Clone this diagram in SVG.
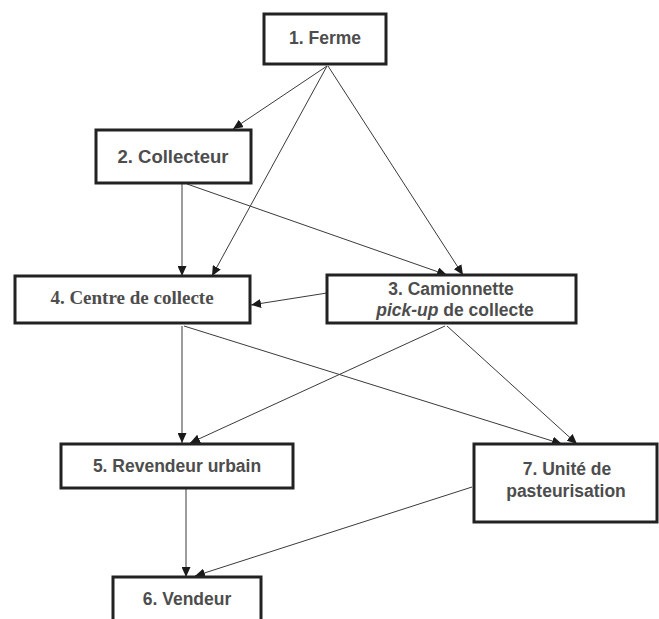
<svg xmlns="http://www.w3.org/2000/svg" width="659" height="619" viewBox="0 0 659 619">
<defs>
<marker id="arr" markerUnits="userSpaceOnUse" markerWidth="10" markerHeight="9" refX="10" refY="4.5" orient="auto">
<path d="M0,0 L10,4.5 L0,9 z" fill="#1a1a1a"/>
</marker>
<style>
.box{fill:#fff;stroke:#222;stroke-width:3}
.lbl{font-family:"Liberation Sans",Arial,sans-serif;font-weight:bold;font-size:17.5px;fill:#4d4d4d;text-anchor:middle}
.ser{font-family:"Liberation Serif","Times New Roman",serif;font-weight:bold;font-size:19px;fill:#4d4d4d;text-anchor:middle}
.c{stroke:#3a3a3a;stroke-width:1;fill:none;marker-end:url(#arr)}
</style>
</defs>
<rect width="659" height="619" fill="#fff"/>
<g id="connectors">
<line class="c" x1="327" y1="66" x2="233" y2="129"/>
<line class="c" x1="327" y1="66" x2="212" y2="276"/>
<line class="c" x1="328" y1="66" x2="463" y2="275"/>
<line class="c" x1="182" y1="184" x2="182" y2="276"/>
<line class="c" x1="187" y1="184" x2="447" y2="275"/>
<line class="c" x1="327" y1="293" x2="251" y2="305"/>
<line class="c" x1="182" y1="326" x2="182" y2="443"/>
<line class="c" x1="445" y1="326" x2="190" y2="443"/>
<line class="c" x1="184" y1="326" x2="562" y2="444"/>
<line class="c" x1="447" y1="326" x2="577" y2="444"/>
<line class="c" x1="186" y1="489" x2="186" y2="577"/>
<line class="c" x1="472" y1="487" x2="195" y2="576"/>
</g>
<g id="n1">
<rect class="box" x="264" y="14" width="122" height="50"/>
<text class="lbl" x="325" y="44">1. Ferme</text>
</g>
<g id="n2">
<rect class="box" x="96" y="130" width="155" height="53"/>
<text class="lbl" x="173" y="163" style="font-size:18.5px">2. Collecteur</text>
</g>
<g id="n4">
<rect class="box" x="15" y="276" width="235" height="47"/>
<text class="ser" x="132" y="304">4. Centre de collecte</text>
</g>
<g id="n3">
<rect class="box" x="327" y="275" width="249" height="48"/>
<text class="lbl" x="451" y="295">3. Camionnette</text>
<text class="lbl" x="455" y="316"><tspan font-style="italic">pick-up</tspan> de collecte</text>
</g>
<g id="n5">
<rect class="box" x="61" y="444" width="232" height="44"/>
<text class="lbl" x="177" y="472">5. Revendeur urbain</text>
</g>
<g id="n7">
<rect class="box" x="474" y="444" width="183" height="78"/>
<text class="lbl" x="567" y="475">7. Unité de</text>
<text class="lbl" x="566" y="497">pasteurisation</text>
</g>
<g id="n6">
<rect class="box" x="113" y="577" width="148" height="60"/>
<text class="lbl" x="187" y="605">6. Vendeur</text>
</g>
</svg>
